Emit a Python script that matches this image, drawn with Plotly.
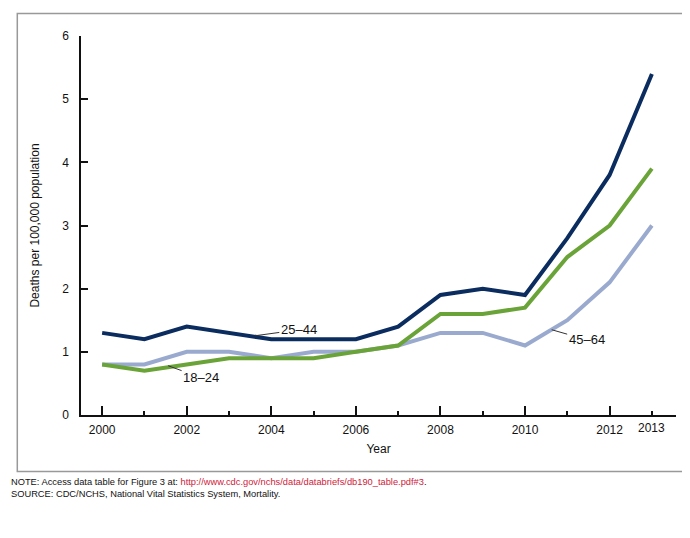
import plotly.graph_objects as go

years = list(range(2000, 2014))
age_25_44 = [1.3, 1.2, 1.4, 1.3, 1.2, 1.2, 1.2, 1.4, 1.9, 2.0, 1.9, 2.8, 3.8, 5.4]
age_18_24 = [0.8, 0.7, 0.8, 0.9, 0.9, 0.9, 1.0, 1.1, 1.6, 1.6, 1.7, 2.5, 3.0, 3.9]
age_45_64 = [0.8, 0.8, 1.0, 1.0, 0.9, 1.0, 1.0, 1.1, 1.3, 1.3, 1.1, 1.5, 2.1, 3.0]
major_ticks = [2000, 2002, 2004, 2006, 2008, 2010, 2012]
extra_label_year = 2013
y_ticks = [0, 1, 2, 3, 4, 5, 6]

NAVY = "#0b2c5f"
GREEN = "#6aa438"
LIGHT = "#9aaacf"
FONT = "Liberation Sans, Arial, sans-serif"

fig = go.Figure()
fig.add_trace(go.Scatter(x=years, y=age_45_64, mode="lines", name="45–64",
                         line=dict(color=LIGHT, width=4)))
fig.add_trace(go.Scatter(x=years, y=age_18_24, mode="lines", name="18–24",
                         line=dict(color=GREEN, width=4)))
fig.add_trace(go.Scatter(x=years, y=age_25_44, mode="lines", name="25–44",
                         line=dict(color=NAVY, width=4)))

L, R, T, B = 73, 668, 27.6, 407.4
W, H = 690, 538
pw, ph = R - L, B - T

def px_x(p):
    return (p - L) / pw

def px_y(p):
    return (B - p) / ph

fig.update_layout(
    width=W, height=H,
    margin=dict(l=L, r=W - R, t=T, b=H - B, pad=0),
    paper_bgcolor="white", plot_bgcolor="white",
    showlegend=False,
    hovermode=False,
    font=dict(family=FONT, size=12, color="#111"),
    xaxis=dict(
        range=[1999.5, 2013.57],
        tickmode="array", tickvals=major_ticks,
        ticktext=[str(v) for v in major_ticks],
        ticks="inside", ticklen=9, tickwidth=1.5, tickcolor="#111",
        ticklabelstandoff=3,
        minor=dict(ticks="inside", ticklen=4, tickwidth=1.5, tickcolor="#111",
                   dtick=1, tick0=2000, showgrid=False),
        showline=True, linecolor="#111", linewidth=1.5,
        showgrid=False, zeroline=False,
        tickfont=dict(size=12, family=FONT, color="#111"),
        title=dict(text="Year", font=dict(size=12, family=FONT, color="#111"), standoff=8),
    ),
    yaxis=dict(
        range=[0, 6],
        tickmode="array", tickvals=y_ticks,
        ticks="inside", ticklen=7, tickwidth=1.5, tickcolor="#111",
        ticklabelstandoff=8,
        showline=True, linecolor="#111", linewidth=1.5,
        showgrid=False, zeroline=False,
        tickfont=dict(size=12, family=FONT, color="#111"),
        title=dict(text="Deaths per 100,000 population",
                   font=dict(size=12, family=FONT, color="#111"), standoff=20),
    ),
)

# Frame around chart
fig.add_shape(type="rect", xref="paper", yref="paper",
              x0=px_x(9.3), x1=px_x(684), y0=px_y(464), y1=px_y(5),
              line=dict(color="#999999", width=1.5), fillcolor="rgba(0,0,0,0)",
              layer="below")

# 2013 label (short tick like minor ticks)
fig.add_annotation(x=extra_label_year, y=px_y(420.3), xref="x", yref="paper",
                   text=str(extra_label_year), showarrow=False,
                   font=dict(size=12, family=FONT, color="#111"),
                   yanchor="middle")

# Series labels with leader lines
labels = [
    ("25–44", 2003.61, 1.254, 44, -6),
    ("18–24", 2001.56, 0.78, 33, 12),
    ("45–64", 2010.63, 1.35, 35, 10),
]
for text, x, y, ax, ay in labels:
    fig.add_annotation(x=x, y=y, xref="x", yref="y", text=text,
                       showarrow=True, arrowhead=0, arrowwidth=1,
                       arrowcolor="#333", ax=ax, ay=ay, standoff=0,
                       font=dict(size=13, family=FONT, color="#111"))

fig.add_annotation(xref="paper", yref="paper", x=px_x(1), y=px_y(481),
                   xanchor="left", yanchor="middle", align="left", showarrow=False,
                   text='NOTE: Access data table for Figure 3 at: '
                        '<span style="color:#d0213a">http://www.cdc.gov/nchs/data/databriefs/db190_table.pdf#3</span>.'
                        '<br>SOURCE: CDC/NCHS, National Vital Statistics System, Mortality.',
                   font=dict(size=9.3, family=FONT, color="#111"))

fig.write_html("out.html", config={"displayModeBar": False})
